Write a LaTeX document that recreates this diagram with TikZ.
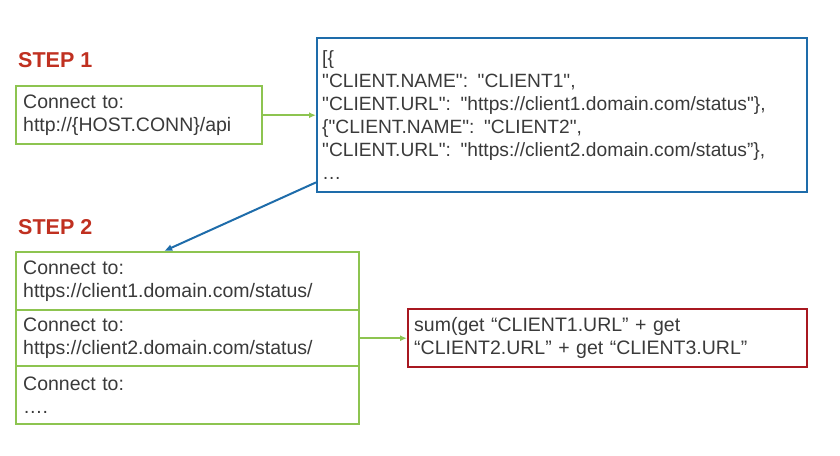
\documentclass[tikz,border=0pt]{standalone}
\usepackage{fontspec}
\setmainfont{Liberation Sans}[Ligatures=TeXOff]
\usetikzlibrary{arrows.meta,calc}
\definecolor{stepred}{RGB}{192,48,32}
\definecolor{boxgreen}{RGB}{141,196,80}
\definecolor{jsonblue}{RGB}{30,108,170}
\definecolor{sumred}{RGB}{168,24,32}
\definecolor{textgray}{RGB}{58,58,58}
\begin{document}
\begin{tikzpicture}[x=1pt, y=-1pt,
  steplabel/.style={anchor=base west, inner sep=0pt, text=stepred, font=\fontsize{21.5}{24}\selectfont\bfseries},
  connbox/.style={draw=boxgreen, line width=2.4pt, anchor=north west, align=left, inner xsep=7pt, inner ysep=0pt, text=textgray, font=\fontsize{19.5}{22.5}\selectfont},
  jsonbox/.style={draw=jsonblue, line width=2.4pt, anchor=north west, align=left, inner xsep=5pt, inner ysep=0pt, text=textgray, font=\fontsize{19.2}{23}\selectfont},
  sumbox/.style={draw=sumred, line width=2.4pt, anchor=north west, align=left, inner xsep=6pt, inner ysep=0pt, text=textgray, font=\fontsize{19.5}{22.5}\selectfont},
  greenarrow/.style={draw=boxgreen, line width=2pt, -{Latex[length=7pt,width=6pt]}},
  bluearrow/.style={draw=jsonblue, line width=2pt, -{Latex[length=8pt,width=7pt]}}]
\useasboundingbox (0,0) rectangle (840,455);
\node[steplabel] (step1) at (18,67) {STEP 1};
\node[connbox, text width=232pt, minimum height=58pt] (conn) at (15,85) {Connect to:\\http://\{HOST.CONN\}/api};
\node[jsonbox, text width=480pt, minimum height=154pt] (json) at (316,37) {[\{\\"CLIENT.NAME": "CLIENT1",\\"CLIENT.URL": "https://client1.domain.com/status"\},\\\{"CLIENT.NAME": "CLIENT2",\\"CLIENT.URL": "https://client2.domain.com/status”\},\\…};
\node[steplabel] (step2) at (18,234) {STEP 2};
\node[connbox, text width=329pt, minimum height=58pt] (client1) at (15,251) {Connect to:\\https://client1.domain.com/status/};
\node[connbox, text width=329pt, minimum height=56pt] (client2) at (15,309) {Connect to:\\https://client2.domain.com/status/};
\node[connbox, text width=329pt, minimum height=58pt] (client3) at (15,365) {Connect to:\\….};
\node[sumbox, text width=387pt, minimum height=58pt] (sum) at (407,308) {sum(get “CLIENT1.URL” + get\\“CLIENT2.URL” + get “CLIENT3.URL”};
\draw[greenarrow] (conn.east) -- (conn.east -| json.west);
\draw[bluearrow] ($(json.south west)+(0,-11)$) -- ($(client1.north)+(-23.5,0)$);
\draw[greenarrow] (client2.east) -- (sum.west);
\end{tikzpicture}
\end{document}
